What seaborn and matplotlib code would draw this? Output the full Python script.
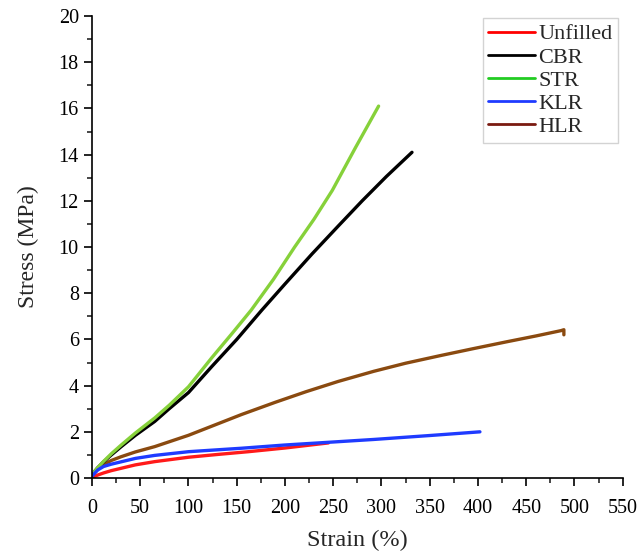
import matplotlib
matplotlib.use("Agg")
import matplotlib.pyplot as plt
from matplotlib.lines import Line2D
from matplotlib.ticker import MultipleLocator
import seaborn as sns
import pandas as pd

series_names = ["Unfilled", "CBR", "STR", "KLR", "HLR"]

unfilled_x = [0, 3, 6, 12, 20, 30, 45, 65, 100, 130, 162, 200, 245]
unfilled_y = [0.03, 0.08, 0.13, 0.22, 0.32, 0.42, 0.57, 0.71, 0.9, 1.02, 1.14, 1.3, 1.52]

cbr_x = [0, 3, 6, 12, 20, 30, 45, 65, 80, 100, 124, 150, 176, 200, 228, 255, 280, 305, 331.6]
cbr_y = [0.08, 0.3, 0.45, 0.7, 1.0, 1.35, 1.85, 2.45, 3.0, 3.7, 4.82, 6.0, 7.27, 8.4, 9.7, 10.9, 12.0, 13.05, 14.1]

str_x = [0, 3, 6, 12, 20, 30, 45, 65, 80, 100, 124, 145, 165, 188, 210, 230, 249, 273, 297]
str_y = [0.08, 0.3, 0.45, 0.72, 1.05, 1.42, 1.95, 2.6, 3.15, 3.95, 5.2, 6.25, 7.27, 8.6, 10.0, 11.2, 12.45, 14.3, 16.1]

klr_x = [0, 3, 6, 12, 20, 30, 45, 65, 100, 155, 200, 250, 292, 350, 402]
klr_y = [0.08, 0.22, 0.35, 0.5, 0.6, 0.7, 0.85, 0.98, 1.14, 1.29, 1.43, 1.56, 1.67, 1.84, 2.0]

hlr_x = [0, 3, 6, 12, 20, 30, 45, 65, 100, 155, 190, 222, 255, 292, 325, 361, 395, 430, 460, 486, 489, 489]
hlr_y = [0.08, 0.25, 0.4, 0.58, 0.76, 0.92, 1.13, 1.36, 1.85, 2.75, 3.28, 3.74, 4.18, 4.62, 4.97, 5.3, 5.6, 5.9, 6.15, 6.38, 6.42, 6.2]

line_colors = ["#ff1a1a", "#000000", "#86d13a", "#1f3bff", "#8a4a10"]
legend_colors = ["#ff0000", "#000000", "#22cc22", "#1f3bff", "#7a1a10"]

frames = []
for name, xs, ys in zip(series_names,
                        [unfilled_x, cbr_x, str_x, klr_x, hlr_x],
                        [unfilled_y, cbr_y, str_y, klr_y, hlr_y]):
    frames.append(pd.DataFrame({"Strain": xs, "Stress": ys, "Sample": name}))
df = pd.concat(frames, ignore_index=True)

sns.set_style("ticks")
plt.rcParams["font.family"] = ["Liberation Serif", "DejaVu Serif"]

fig = plt.figure(figsize=(6.42, 5.52), dpi=100)
ax = fig.add_axes([0.1433, 0.134, 0.8267, 0.837])

draw_order = ["HLR", "CBR", "STR", "Unfilled", "KLR"]
for name in draw_order:
    sub = df[df["Sample"] == name]
    c = line_colors[series_names.index(name)]
    sns.lineplot(data=sub, x="Strain", y="Stress", sort=False, estimator=None,
                 color=c, linewidth=2.4, ax=ax, legend=False)

ax.set_xlim(0, 550)
ax.set_ylim(0, 20)
ax.xaxis.set_major_locator(MultipleLocator(50))
ax.xaxis.set_minor_locator(MultipleLocator(25))
ax.yaxis.set_major_locator(MultipleLocator(2))
ax.yaxis.set_minor_locator(MultipleLocator(1))
ax.tick_params(which="major", direction="out", length=6, width=1.2, labelsize=14.5, colors="black")
ax.tick_params(axis="x", which="major", pad=9)
ax.tick_params(which="minor", direction="out", length=3.5, width=1.2)
for s in ["top", "right"]:
    ax.spines[s].set_visible(False)
for s in ["left", "bottom"]:
    ax.spines[s].set_linewidth(1.2)
    ax.spines[s].set_color("black")

ax.set_xlabel("Strain (%)", fontsize=17.5, labelpad=9)
ax.set_ylabel("Stress (MPa)", fontsize=17, labelpad=14)

handles = [Line2D([0], [0], color=c, lw=2.0) for c in legend_colors]
leg = ax.legend(handles, series_names, loc="upper right", bbox_to_anchor=(0.995, 1.0),
                fontsize=16, frameon=True, fancybox=False, handlelength=2.1,
                handletextpad=0.15, labelspacing=0.12, borderpad=0.25, borderaxespad=0.1)
leg.get_frame().set_edgecolor("#c8c8c8")
leg.get_frame().set_linewidth(1.0)

fig.savefig("out.png", dpi=100)
